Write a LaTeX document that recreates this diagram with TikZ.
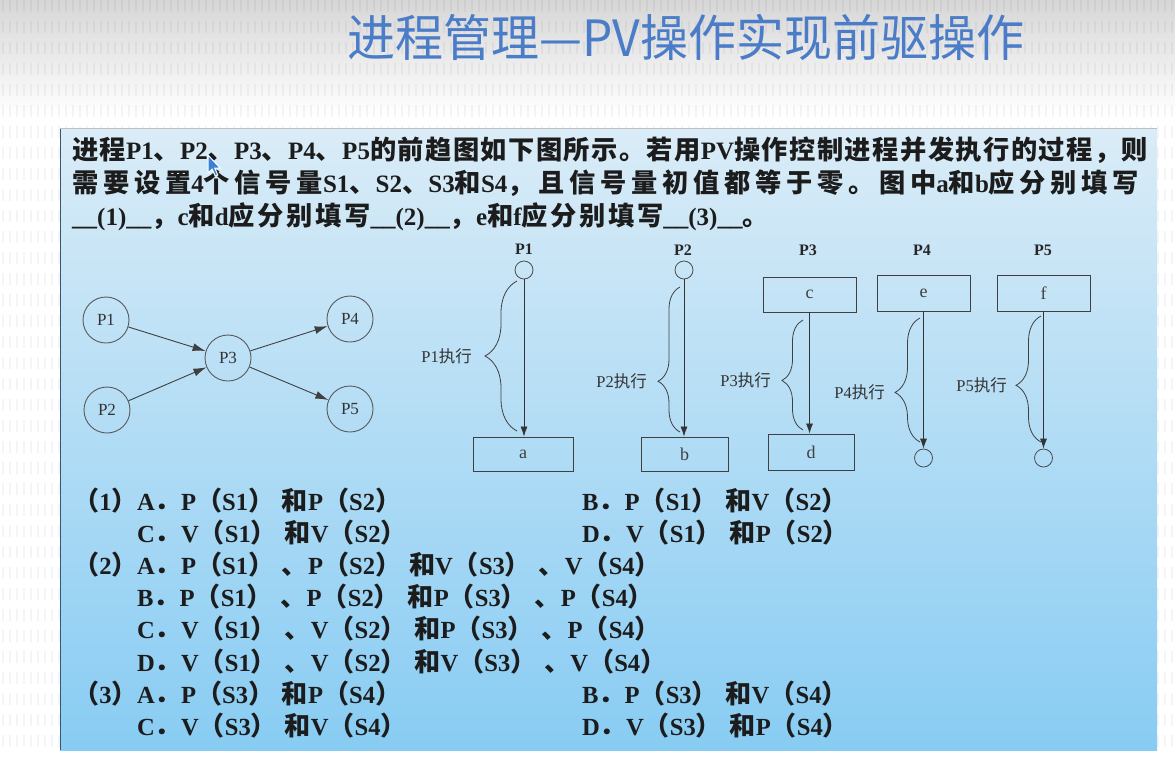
\documentclass[tikz,border=0pt]{standalone}
\usepackage{fontspec}
\usepackage{graphicx}
\setmainfont{Liberation Serif}
\newfontfamily\zh{Noto Sans CJK SC}
\newfontfamily\zqa{Noto Sans CJK SC Bold}[Scale=1.05,LetterSpace=5.5]
\newfontfamily\zqb{Noto Sans CJK SC Bold}[Scale=1.05,LetterSpace=18]
\newfontfamily\zqc{Noto Sans CJK SC Bold}[Scale=1.05,LetterSpace=10]
\newfontfamily\zo{Noto Sans CJK SC Bold}[Scale=1.06,LetterSpace=30]
\usetikzlibrary{arrows.meta,decorations.pathreplacing}
\definecolor{titleblue}{HTML}{4A7CC8}
\definecolor{paneltop}{HTML}{DAECF7}
\definecolor{panelbot}{HTML}{88CCF3}
\definecolor{paneledge}{HTML}{3A5570}
\definecolor{ink}{HTML}{1C1C1C}
\definecolor{cursorblue}{HTML}{3B82D6}
\newcommand\zcur{\zqa}
\newcommand\Z[1]{{\zcur #1}}
\newcommand\Zo[1]{{\zo #1}}
\newcommand\zr[1]{{\zh #1}}
\tikzset{
  stripe/.style={draw=black!70!blue, opacity=0.04, line width=2.2pt, dash pattern=on 12pt off 9pt},
  q/.style={anchor=base west, inner sep=0pt, text=ink, font=\bfseries\fontsize{25}{25}\selectfont},
  opt/.style={anchor=base west, inner sep=0pt, text=ink, font=\bfseries\fontsize{24.6}{24.6}\selectfont},
  pc/.style={circle, draw=black!65, line width=0.9pt, minimum size=46pt, inner sep=0pt, text=black!80, font=\fontsize{17}{17}\selectfont},
  garrow/.style={draw=black!75, line width=0.9pt, -{Latex[length=13pt,width=8pt]}},
  sc/.style={circle, draw=black!70, line width=0.8pt, minimum size=18pt, inner sep=0pt},
  bx/.style={draw=black!75, line width=0.9pt, inner sep=0pt, text=black!75, font=\fontsize{18}{18}\selectfont},
  varrow/.style={draw=black!80, line width=0.8pt, -{Latex[length=10pt,width=7pt]}},
  brc/.style={draw=black!75, line width=0.8pt, decorate},
  toplab/.style={inner sep=0pt, text=black!85, font=\bfseries\fontsize{16}{16}\selectfont},
  lab/.style={inner sep=0pt, anchor=east, text=black!80, font=\fontsize{16.5}{16.5}\selectfont}
}
\begin{document}
\begin{tikzpicture}[x=1pt,y=-1pt]
\useasboundingbox (0,0) rectangle (1175,756);
% background
\fill[white] (0,0) rectangle (1175,756);
\shade[top color=black!16, bottom color=white] (0,0) rectangle (1175,115);
\foreach \x in {3,10,...,1175} {\draw[stripe] (\x,0) -- (\x,756);}
% title
\node[text=titleblue, inner sep=0pt, font=\zh\fontsize{48}{48}\selectfont] (title) at (686,37) {\scalebox{1}[1.04]{进程管理—PV操作实现前驱操作}};
% panel
\shade[top color=paneltop, bottom color=panelbot] (60,128) rectangle (1157,750);
\draw[paneledge, line width=1.5pt] (60.7,128) -- (60.7,750);
\draw[black!25, line width=0.6pt] (60,128.3) -- (1157,128.3);
% question text
\node[q] (q1) at (72,159) {\Z{进程}P1\Z{、}P2\Z{、}P3\Z{、}P4\Z{、}P5\Z{的前趋图如下图所示。若用}PV\Z{操作控制进程并发执行的过程，则}};
\node[q] (q2) at (72,192) {\renewcommand\zcur{\zqb}\Z{需要设置}4\Z{个信号量}S1\Z{、}S2\Z{、}S3\Z{和}S4\Z{，且信号量初值都等于零。图中}a\Z{和}b\Z{应分别填写}};
\node[q] (q3) at (72,225) {\renewcommand\zcur{\zqc}\_\_(1)\_\_\Z{，}c\Z{和}d\Z{应分别填写}\_\_(2)\_\_\Z{，}e\Z{和}f\Z{应分别填写}\_\_(3)\_\_\Z{。}};
% precedence graph
\node[pc] (g1) at (106,320) {P1};
\node[pc] (g2) at (107,410) {P2};
\node[pc] (g3) at (228,358) {P3};
\node[pc] (g4) at (350,319) {P4};
\node[pc] (g5) at (350,409) {P5};
\draw[garrow] (g1) -- (g3);
\draw[garrow] (g2) -- (g3);
\draw[garrow] (g3) -- (g4);
\draw[garrow] (g3) -- (g5);
% column P1
\node[toplab] (t1) at (524,249) {P1};
\node[sc] (s1) at (524,270) {};
\node[bx, minimum width=100pt, minimum height=34pt] (ba) at (523,454) {a};
\draw[varrow] (s1.south) -- (s1.south |- ba.north);
\draw[brc, decoration={brace, amplitude=32pt, aspect=0.5}] (517,431) -- (517,281);
\node[lab] (l1) at (472,356) {P1\zr{执行}};
% column P2
\node[toplab] (t2) at (683,250) {P2};
\node[sc] (s2) at (684,270) {};
\node[bx, minimum width=87pt, minimum height=34pt] (bb) at (684.5,454) {b};
\draw[varrow] (s2.south) -- (s2.south |- bb.north);
\draw[brc, decoration={brace, amplitude=22pt, aspect=0.35}] (680,432) -- (680,287);
\node[lab] (l2) at (647,381) {P2\zr{执行}};
% column P3
\node[toplab] (t3) at (808,250) {P3};
\node[bx, minimum width=93pt, minimum height=35pt] (bc) at (809.5,294.5) {c};
\node[bx, minimum width=86pt, minimum height=36pt] (bd) at (811,452) {d};
\draw[varrow] (bc.south) -- (bc.south |- bd.north);
\draw[brc, decoration={brace, amplitude=21pt, aspect=0.45}] (803,430) -- (803,320);
\node[lab] (l3) at (771,380) {P3\zr{执行}};
% column P4
\node[toplab] (t4) at (922,250) {P4};
\node[bx, minimum width=93pt, minimum height=36pt] (be) at (923.5,293) {e};
\node[sc] (s4) at (923.5,458) {};
\draw[varrow] (be.south) -- (be.south |- s4.north);
\draw[brc, decoration={brace, amplitude=25pt, aspect=0.4}] (920,442) -- (920,318);
\node[lab] (l4) at (885,392) {P4\zr{执行}};
% column P5
\node[toplab] (t5) at (1043,250) {P5};
\node[bx, minimum width=93pt, minimum height=36pt] (bf) at (1043.5,293) {f};
\node[sc] (s5) at (1043.5,458) {};
\draw[varrow] (bf.south) -- (bf.south |- s5.north);
\draw[brc, decoration={brace, amplitude=25pt, aspect=0.45}] (1041,442) -- (1041,316);
\node[lab] (l5) at (1007,385) {P5\zr{执行}};
% options
\node[opt] (n1) at (73,510) {\Zo{（}1\Zo{）}};
\node[opt] (o1a) at (137,510) {A\Zo{．}P\Zo{（}S1\Zo{）和}P\Zo{（}S2\Zo{）}};
\node[opt] (o1b) at (582,510) {B\Zo{．}P\Zo{（}S1\Zo{）和}V\Zo{（}S2\Zo{）}};
\node[opt] (o1c) at (137,542) {C\Zo{．}V\Zo{（}S1\Zo{）和}V\Zo{（}S2\Zo{）}};
\node[opt] (o1d) at (582,542) {D\Zo{．}V\Zo{（}S1\Zo{）和}P\Zo{（}S2\Zo{）}};
\node[opt] (n2) at (73,574) {\Zo{（}2\Zo{）}};
\node[opt] (o2a) at (137,574) {A\Zo{．}P\Zo{（}S1\Zo{）、}P\Zo{（}S2\Zo{）和}V\Zo{（}S3\Zo{）、}V\Zo{（}S4\Zo{）}};
\node[opt] (o2b) at (137,606) {B\Zo{．}P\Zo{（}S1\Zo{）、}P\Zo{（}S2\Zo{）和}P\Zo{（}S3\Zo{）、}P\Zo{（}S4\Zo{）}};
\node[opt] (o2c) at (137,638) {C\Zo{．}V\Zo{（}S1\Zo{）、}V\Zo{（}S2\Zo{）和}P\Zo{（}S3\Zo{）、}P\Zo{（}S4\Zo{）}};
\node[opt] (o2d) at (137,671) {D\Zo{．}V\Zo{（}S1\Zo{）、}V\Zo{（}S2\Zo{）和}V\Zo{（}S3\Zo{）、}V\Zo{（}S4\Zo{）}};
\node[opt] (n3) at (73,703) {\Zo{（}3\Zo{）}};
\node[opt] (o3a) at (137,703) {A\Zo{．}P\Zo{（}S3\Zo{）和}P\Zo{（}S4\Zo{）}};
\node[opt] (o3b) at (582,703) {B\Zo{．}P\Zo{（}S3\Zo{）和}V\Zo{（}S4\Zo{）}};
\node[opt] (o3c) at (137,735) {C\Zo{．}V\Zo{（}S3\Zo{）和}V\Zo{（}S4\Zo{）}};
\node[opt] (o3d) at (582,735) {D\Zo{．}V\Zo{（}S3\Zo{）和}P\Zo{（}S4\Zo{）}};
% mouse cursor
\filldraw[fill=cursorblue, draw=white, line width=1pt, shift={(208,155)}] (0,0) -- (0,18) -- (4.2,14.2) -- (7.2,21) -- (9.8,20) -- (6.8,13.2) -- (12.3,13.2) -- cycle;
\end{tikzpicture}
\end{document}
